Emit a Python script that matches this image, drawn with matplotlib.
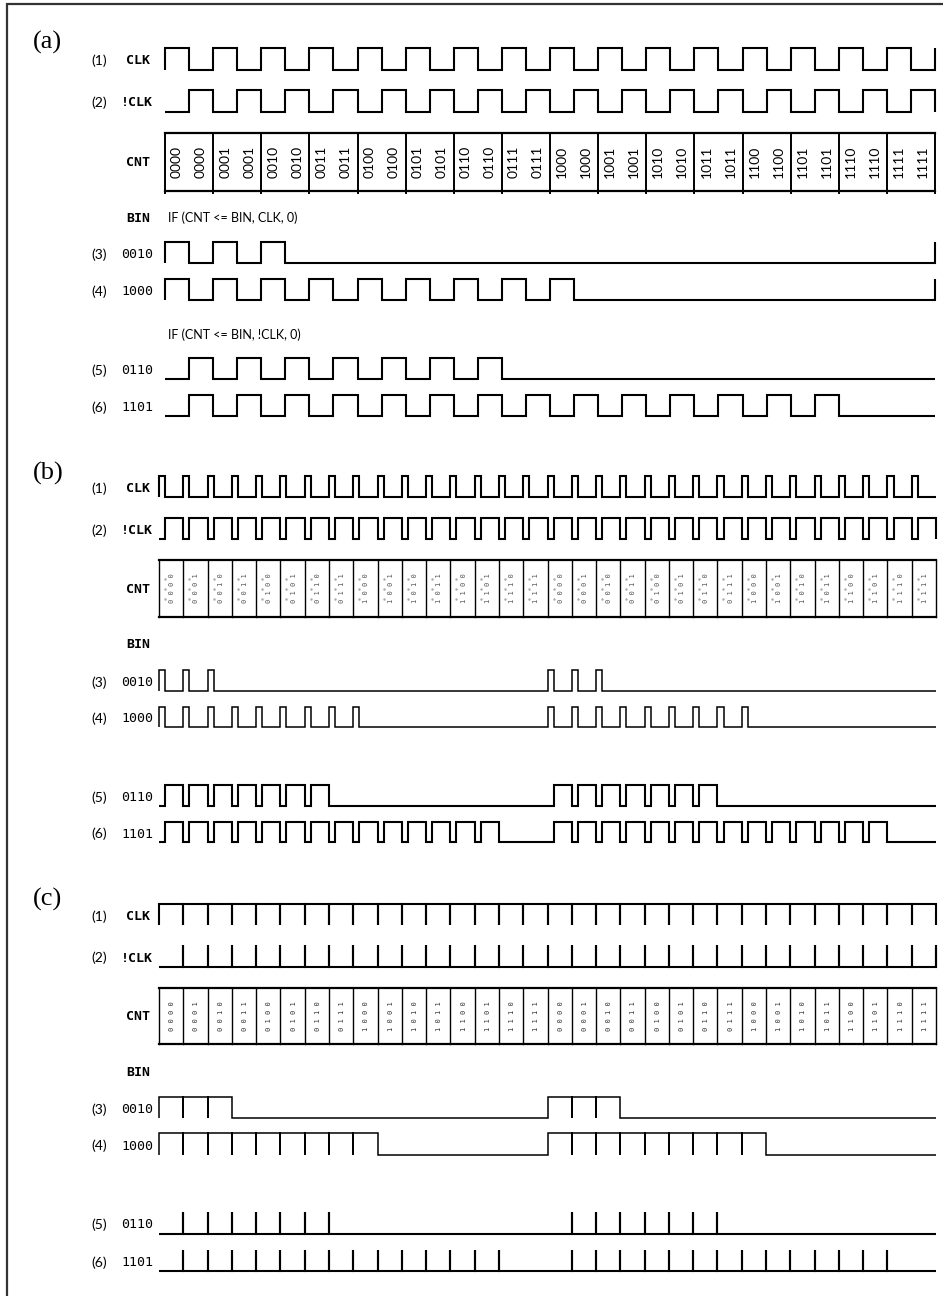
import matplotlib.pyplot as plt

# counter values and the BIN thresholds compared against them
cnt_values = ['0000', '0001', '0010', '0011', '0100', '0101', '0110', '0111',
              '1000', '1001', '1010', '1011', '1100', '1101', '1110', '1111']
bin_values = ['0010', '1000', '0110', '1101']
row_numbers = ['(1)', '(2)', '(3)', '(4)', '(5)', '(6)']
clock_names = ['CLK', '!CLK']
panel_names = ['(a)', '(b)', '(c)']
conditions = ['IF (CNT <= BIN, CLK, 0)', 'IF (CNT <= BIN, !CLK, 0)']
cycles = [1, 2, 2]          # counter cycles shown per panel
duty = [0.5, 0.25, 1.0]     # share of a period the CLK stays high

W, H = 943, 1296

# layout per panel: x range, y of panel label, rows as (high, low), CNT box, BIN line
panels = [
    dict(x0=165, x1=935, title_y=42,
         rows=[(48, 70), (90, 112), (242, 263), (279, 300), (358, 379), (395, 416)],
         box=(133, 191), bin_y=218, cond_y=[218, 335], wrap=True),
    dict(x0=159, x1=936, title_y=473,
         rows=[(476, 497), (518, 539), (670, 691), (707, 727), (785, 806), (822, 842)],
         box=(560, 617), bin_y=645, cond_y=None, wrap=False),
    dict(x0=159, x1=936, title_y=899,
         rows=[(904, 925), (945, 967), (1097, 1118), (1133, 1155), (1212, 1234), (1250, 1271)],
         box=(988, 1044), bin_y=1072, cond_y=None, wrap=False),
]


def wave(n, d, inverted, enabled, wrap):
    xs, ys = [0], [0]
    for k in range(n):
        if not enabled[k]:
            xs += [k + 1]
            ys += [0]
        elif not inverted:
            xs += [k, k + d, k + d, k + 1]
            ys += [1, 1, 0, 0]
        else:
            xs += [k + d, k + d, k + 1, k + 1]
            ys += [0, 1, 1, 0]
    if wrap and not inverted and enabled[0]:
        xs += [n]
        ys += [1]
    return xs, ys


fig = plt.figure(figsize=(W / 100, H / 100), dpi=100)
ax = fig.add_axes([0, 0, 1, 1])
ax.set_xlim(0, W)
ax.set_ylim(H, 0)
ax.axis('off')

# frame
ax.plot([7, 7, W], [H, 4, 4], color='#333333', lw=1.6, solid_joinstyle='miter')

mono = 'DejaVu Sans Mono'
sans = 'Lato'

for p, pan in enumerate(panels):
    n = 16 * cycles[p]
    x0, x1 = pan['x0'], pan['x1']
    step = (x1 - x0) / n
    counts = [cnt_values[k % 16] for k in range(n)]

    ax.text(33, pan['title_y'], panel_names[p], family='Liberation Serif',
            fontsize=19, va='center', ha='left')

    for r, (hi, lo) in enumerate(pan['rows']):
        inverted = r in (1, 4, 5)
        if r < 2:
            enabled = [True] * n
        else:
            b = bin_values[r - 2]
            enabled = [c <= b for c in counts]
        xs, ys = wave(n, duty[p], inverted, enabled, pan['wrap'])
        px = [x0 + x * step for x in xs]
        py = [lo - y * (lo - hi) for y in ys]
        lw = 1.1 if (p > 0 and r in (2, 3)) else 1.5
        ax.plot(px, py, color='black', lw=lw, solid_joinstyle='miter',
                solid_capstyle='butt')

        yc = (hi + lo) / 2 + 2
        ax.text(91, yc, row_numbers[r], family=sans, fontsize=10,
                va='center', ha='left')
        if r < 2:
            ax.text(126 if r == 0 else 121, yc, clock_names[r], family=mono,
                    weight='bold', fontsize=9.5, va='center', ha='left')
        else:
            ax.text(121, yc, bin_values[r - 2], family=mono, fontsize=9.5,
                    va='center', ha='left')

    # CNT box
    top, bot = pan['box']
    ax.plot([x0, x1], [top, top], color='black', lw=1.6)
    ax.plot([x0, x1], [bot, bot], color='black', lw=1.6)
    for k in range(n + 1):
        ax.plot([x0 + k * step] * 2, [top, bot + (2 if p == 0 else 0)],
                color='black', lw=1.4 if p == 0 else 1.0)
    ymid = (top + bot) / 2
    for k in range(n):
        if p == 0:
            for h in (0.25, 0.75):
                ax.text(x0 + (k + h) * step, ymid, counts[k], family=sans,
                        fontsize=10, rotation=90, va='center', ha='center')
        else:
            ax.text(x0 + (k + 0.5) * step + 1, ymid, ' '.join(counts[k]),
                    family=mono, fontsize=5, rotation=90, va='center',
                    ha='center', color='#555555' if p == 1 else '#333333')
            if p == 1:
                ax.plot([x0 + k * step + 6] * 3, [ymid - 10, ymid, ymid + 10],
                        ls='none', marker='.', ms=1.5, color='#aaaaaa')
    ax.text(126, ymid + 1, 'CNT', family=mono, weight='bold', fontsize=9.5,
            va='center', ha='left')

    ax.text(126, pan['bin_y'], 'BIN', family=mono, weight='bold', fontsize=9.5,
            va='center', ha='left')
    if pan['cond_y']:
        for c, cy in zip(conditions, pan['cond_y']):
            ax.text(168, cy, c, family=sans, fontsize=9, va='center', ha='left')

fig.savefig('out.png', dpi=100)
